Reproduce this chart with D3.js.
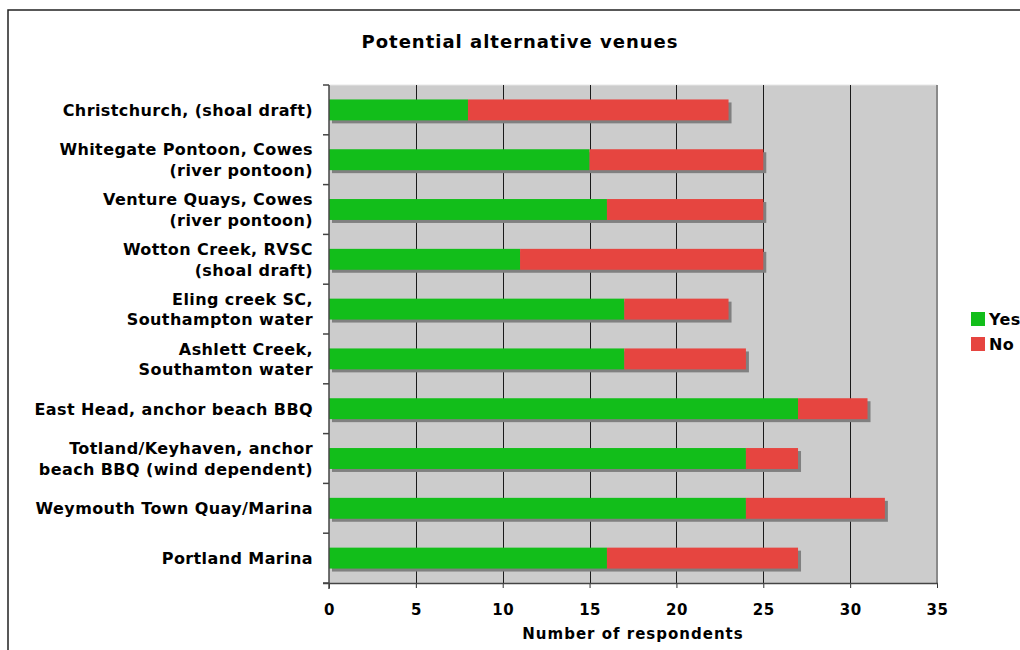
<!DOCTYPE html>
<html><head><meta charset="utf-8">
<script src="https://cdn.jsdelivr.net/npm/d3@7"></script>
<style>
html,body{margin:0;padding:0;background:#fff;overflow:hidden;}
text{font-family:"DejaVu Sans",Verdana,sans-serif;font-weight:bold;fill:#000;}
</style></head>
<body>
<svg id="c" width="1020" height="650"></svg>
<script>
const categories = [
  ["Christchurch, (shoal draft)"],
  ["Whitegate Pontoon, Cowes","(river pontoon)"],
  ["Venture Quays, Cowes","(river pontoon)"],
  ["Wotton Creek, RVSC","(shoal draft)"],
  ["Eling creek SC,","Southampton water"],
  ["Ashlett Creek,","Southamton water"],
  ["East Head, anchor beach BBQ"],
  ["Totland/Keyhaven, anchor","beach BBQ (wind dependent)"],
  ["Weymouth Town Quay/Marina"],
  ["Portland Marina"]
];
const yesValues = [8, 15, 16, 11, 17, 17, 27, 24, 24, 16];
const noValues  = [15, 10, 9, 14, 6, 7, 4, 3, 8, 11];
const xTicks = [0, 5, 10, 15, 20, 25, 30, 35];
const seriesNames = ["Yes", "No"];
const colors = ["#12be1a", "#e64540"];

const svg = d3.select("#c");
const L = 329, R = 937, T = 85, B = 583;
const x = d3.scaleLinear().domain([0, 35]).range([L, R]);
const y = d3.scaleBand().domain(d3.range(categories.length)).range([T, B]).paddingInner(0.58).paddingOuter(0.29);

// outer frame
svg.append("rect").attr("x", 8).attr("y", 10).attr("width", 1030).attr("height", 660)
  .attr("fill", "#fff").attr("stroke", "#222").attr("stroke-width", 1.5);

// plot background
svg.append("rect").attr("x", L).attr("y", T).attr("width", R - L).attr("height", B - T).attr("fill", "#cccccc");
svg.append("line").attr("x1", L).attr("x2", R).attr("y1", T).attr("y2", T).attr("stroke", "#e6e6e6").attr("stroke-width", 1);

// gridlines
svg.append("g").selectAll("line").data(xTicks.filter(d => d > 0 && d < 35)).join("line")
  .attr("x1", d => Math.round(x(d)) + 0.5).attr("x2", d => Math.round(x(d)) + 0.5)
  .attr("y1", T).attr("y2", B).attr("stroke", "#1a1a1a").attr("stroke-width", 1);
svg.append("line").attr("x1", R).attr("x2", R).attr("y1", T).attr("y2", B).attr("stroke", "#8a8a8a").attr("stroke-width", 2);

// bars
const rows = categories.map((c, i) => ({i, yes: yesValues[i], no: noValues[i]}));
const g = svg.append("g");
g.selectAll("rect.sh").data(rows).join("rect").attr("class", "sh")
  .attr("x", x(0) + 3).attr("y", d => y(d.i) + 3)
  .attr("width", d => x(d.yes + d.no) - x(0)).attr("height", y.bandwidth()).attr("fill", "#808080");
g.selectAll("rect.yes").data(rows).join("rect").attr("class", "yes")
  .attr("x", x(0)).attr("y", d => y(d.i))
  .attr("width", d => x(d.yes) - x(0)).attr("height", y.bandwidth()).attr("fill", colors[0]);
g.selectAll("rect.no").data(rows).join("rect").attr("class", "no")
  .attr("x", d => x(d.yes)).attr("y", d => y(d.i))
  .attr("width", d => x(d.yes + d.no) - x(d.yes)).attr("height", y.bandwidth()).attr("fill", colors[1]);

// x axis
const xa = svg.append("g").attr("transform", `translate(0,${B})`)
  .call(d3.axisBottom(x).tickValues(xTicks).tickSize(5).tickPadding(16).tickFormat(d3.format("d")));
xa.select(".domain").remove();
xa.selectAll(".tick line").attr("stroke", "#333").attr("stroke-width", 1);
xa.selectAll(".tick text").style("font-size", "15px").style("font-family", '"DejaVu Sans",Verdana,sans-serif')
  .style("font-weight", "bold").style("letter-spacing", "0.5px").attr("fill", "#000");
svg.append("line").attr("x1", L - 6).attr("x2", R + 1).attr("y1", B + 0.5).attr("y2", B + 0.5).attr("stroke", "#444").attr("stroke-width", 1.5);

// y axis
const bounds = d3.range(categories.length + 1).map(k => T + k * (B - T) / categories.length);
svg.append("g").selectAll("line").data(bounds).join("line")
  .attr("x1", L - 6).attr("x2", L).attr("y1", d => d).attr("y2", d => d).attr("stroke", "#444").attr("stroke-width", 1.5);
svg.append("line").attr("x1", L).attr("x2", L).attr("y1", T).attr("y2", B + 6).attr("stroke", "#444").attr("stroke-width", 1.5);

// category labels
const lab = svg.append("g");
categories.forEach((lines, i) => {
  const cy = y(i) + y.bandwidth() / 2;
  const lh = 20.5;
  const start = cy + 6 - (lines.length - 1) * lh / 2;
  const t = lab.append("text").attr("text-anchor", "end").style("font-size", "16px").style("letter-spacing", "0.4px");
  lines.forEach((s, k) => t.append("tspan").attr("x", 313).attr("y", start + k * lh).text(s));
});

// title
svg.append("text").attr("x", 520).attr("y", 48).attr("text-anchor", "middle").style("font-size", "18px").style("letter-spacing", "1px").text("Potential alternative venues");
// axis title
svg.append("text").attr("x", (L + R) / 2).attr("y", 639).attr("text-anchor", "middle").style("font-size", "15px").style("letter-spacing", "1px").text("Number of respondents");

// legend
const lg = svg.append("g");
seriesNames.forEach((s, k) => {
  lg.append("rect").attr("x", 971).attr("y", 312 + k * 25).attr("width", 14).attr("height", 14).attr("fill", colors[k]);
  lg.append("text").attr("x", 989).attr("y", 325 + k * 25).style("font-size", "16px").style("letter-spacing", "0.4px").text(s);
});
</script>
</body></html>
